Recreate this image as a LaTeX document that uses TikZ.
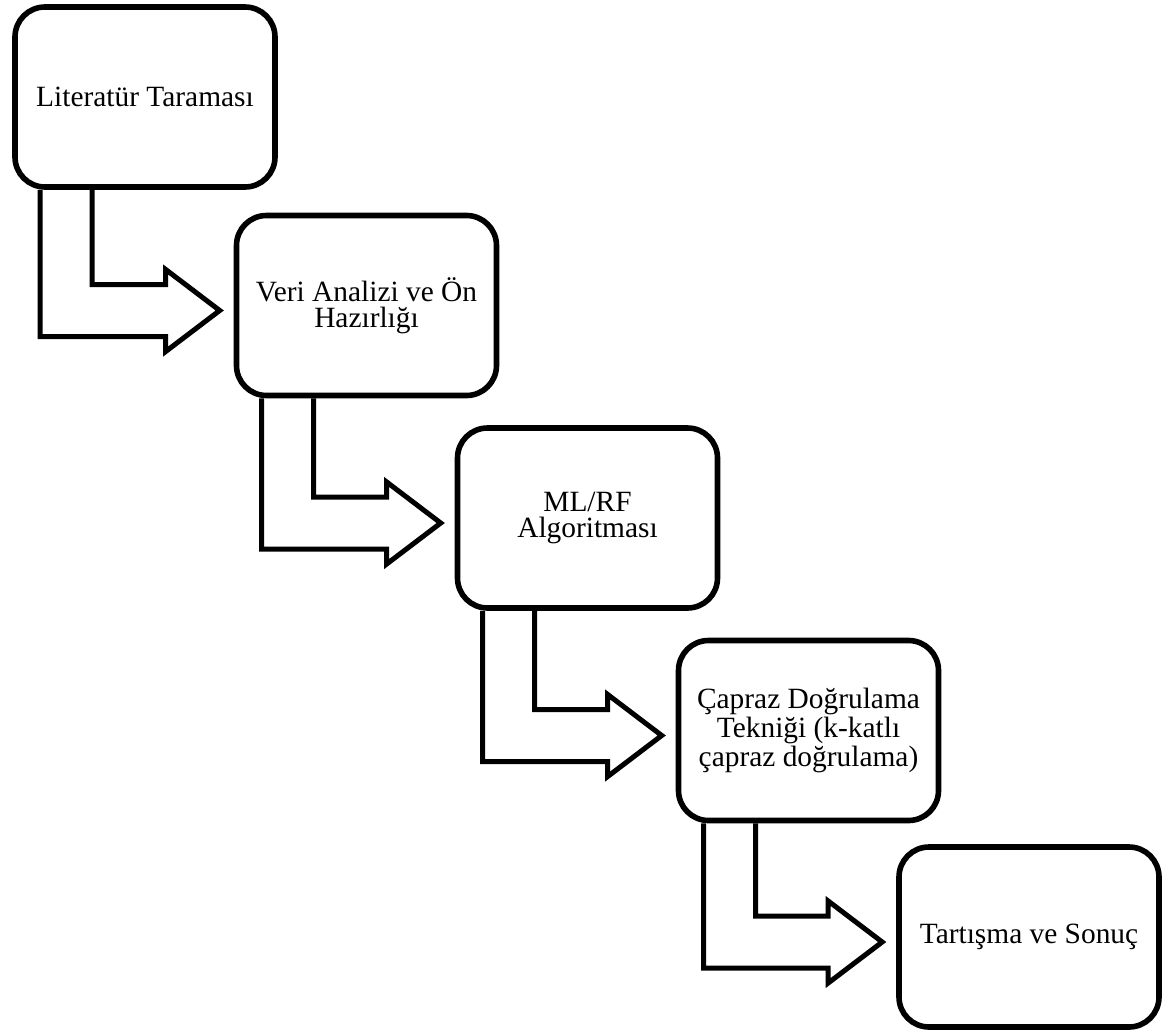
\documentclass[tikz,border=0pt]{standalone}
\usepackage{fontspec}
\setmainfont{Liberation Serif}
\usepackage{tikz}
\usetikzlibrary{calc}
\tikzset{
  stage/.style={draw, rectangle, rounded corners=15pt, line width=2.8pt, fill=white,
                minimum width=130pt, minimum height=90pt, align=center, inner sep=3pt,
                font=\fontsize{14.7}{13.2}\selectfont},
  flowarrow/.style={draw, line width=2.5pt, line join=miter, miter limit=10}
}
% bent block arrow from the bottom of one stage to the left side of the next
\newcommand{\stagearrow}[2]{%
  \draw[flowarrow] ($(#1.south west)+(28,0)$) |- ($(#2.west)+(-68,31)$) -- ++(0,15)
    -- ($(#2.west)+(-14,5)$) -- ++(-54,-41) -- ++(0,15) -| ($(#1.south west)+(80,0)$);}

\begin{document}
\begin{tikzpicture}[x=0.5pt, y=-0.5pt]
\useasboundingbox (0,0) rectangle (1172,1033);
\node[stage] (lit) at (145,97) {Literatür Taraması};
\node[stage] (veri) at (366.5,305.5) {Veri Analizi ve Ön\\Hazırlığı};
\node[stage] (alg) at (587.5,518) {ML/RF\\Algoritması};
\node[stage] (cv) at (808.5,730.5) {Çapraz Doğrulama\\Tekniği (k-katlı\\çapraz doğrulama)};
\node[stage] (son) at (1029,937) {Tartışma ve Sonuç};
\stagearrow{lit}{veri}
\stagearrow{veri}{alg}
\stagearrow{alg}{cv}
\stagearrow{cv}{son}
\end{tikzpicture}
\end{document}
